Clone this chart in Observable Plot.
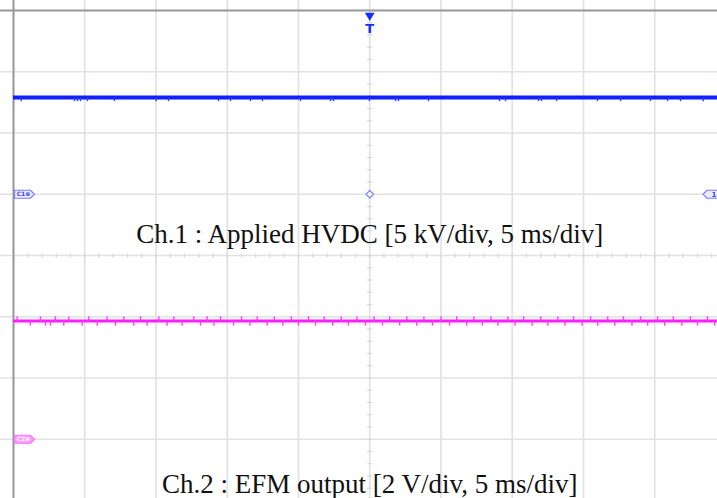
<!DOCTYPE html>
<html>
<head>
<meta charset="utf-8">
<script src="https://cdn.jsdelivr.net/npm/d3@7"></script>
<script src="https://cdn.jsdelivr.net/npm/@observablehq/plot@0.6"></script>
<style>
  html, body { margin: 0; padding: 0; background: #fff; overflow: hidden; }
  #chart { width: 717px; height: 498px; overflow: hidden; }
</style>
</head>
<body>
<div id="chart"></div>
<script>
// ---- Oscilloscope settings ----
const timePerDiv = 5;          // ms/div
const ch1VoltsPerDiv = 5;      // kV/div
const ch2VoltsPerDiv = 2;      // V/div
const ch1Ground = 1;           // divisions from screen centre
const ch2Ground = -3;          // divisions from screen centre
const ch1Level = 7.9;          // kV  (applied HVDC)
const ch2Level = 3.86;         // V   (EFM output)

// ---- Glitches (time in ms) ----
const ch1Glitches = [-24.46,-20.72,-20.51,-20.30,-19.81,-17.92,-14.99,-14.12,-10.61,-9.77,-8.37,-7.53,-4.86,-2.75,-2.54,-0.02,1.81,2.02,4.12,9.11,9.53,11.84,12.05,13.11,15.98,17.60,19.70,20.90,21.81,23.4];
const ch1GlitchAmp = -0.3;     // kV
const ch2GlitchesUp = [-24.75,-23.11,-22.06,-21.12,-19.72,-18.43,-17.26,-16.09,-14.80,-13.75,-12.35,-11.41,-10.47,-9.0,-7.9,-6.7,-5.5,-4.3,-3.2,-2.0,-0.9,0.3,1.4,2.6,3.8,5.0,6.1,7.3,8.5,9.7,10.8,12.0,13.2,14.3,15.5,16.7,17.8,19.0,20.2,21.3,22.5,23.7,24.8];
const ch2GlitchesDown = [-23.82,-22.76,-22.41,-21.47,-20.18,-19.13,-17.84,-16.56,-15.62,-14.22,-13.16,-11.88,-10.94,-9.56,-8.4,-7.2,-6.1,-5.0,-3.8,-2.6,-1.5,-0.3,0.9,2.1,3.3,4.4,5.6,6.8,7.9,9.0,10.2,11.4,12.5,13.7,14.9,16.0,17.2,18.4,19.5,20.7,21.9,23.0,24.2];
const ch2GlitchUpAmp = 0.16;   // V
const ch2GlitchDownAmp = -0.15;// V

// ---- Labels ----
const labels = [
  {text: "Ch.1 : Applied HVDC [5 kV/div, 5 ms/div]", t: 0, div: 0.2},
  {text: "Ch.2 : EFM output [2 V/div, 5 ms/div]", t: 0, div: -3.87}
];
const channelTags = [
  {name: "C1⊕", div: ch1Ground, fill: "#ececff", stroke: "#7a7aff", color: "#4040ff"},
  {name: "C2⊕", div: ch2Ground, fill: "#ff9cff", stroke: "#ff70ff", color: "#ffffff"}
];
const triggerLevelDiv = 1;

// ---- Screen grid ----
const xDivs = d3.range(-5, 6).map(d => d * timePerDiv);
const yDivs = d3.range(-4, 5);
const minorX = d3.range(-25, 25.001, timePerDiv / 5);
const minorY = d3.range(-4, 4.001, 0.2);

const ch1Y = v => ch1Ground + v / ch1VoltsPerDiv;
const ch2Y = v => ch2Ground + v / ch2VoltsPerDiv;

const tagSymbol = {
  draw(ctx) {
    ctx.moveTo(-10, -4); ctx.lineTo(6, -4); ctx.lineTo(10, 0);
    ctx.lineTo(6, 4); ctx.lineTo(-10, 4); ctx.closePath();
  }
};
const tagSymbolLeft = {
  draw(ctx) {
    ctx.moveTo(10, -4); ctx.lineTo(-6, -4); ctx.lineTo(-10, 0);
    ctx.lineTo(-6, 4); ctx.lineTo(10, 4); ctx.closePath();
  }
};

const gridColor = "#e2e2e2";

const plot = Plot.plot({
  width: 717,
  height: 498,
  margin: 0,
  style: {overflow: "hidden", background: "#fff"},
  x: {domain: [-25, 25], range: [13, 725.5], axis: null},
  y: {domain: [-4, 4], range: [500, 10], axis: null},
  marks: [
    Plot.ruleX(xDivs, {stroke: gridColor, strokeWidth: 1.7}),
    Plot.ruleY(yDivs, {stroke: gridColor, strokeWidth: 1.7}),
    // minor ticks on centre lines
    Plot.link(minorX, {x1: d => d, x2: d => d, y1: -0.035, y2: 0.035, stroke: "#d8d8d8", strokeWidth: 1.2}),
    Plot.link(minorY, {y1: d => d, y2: d => d, x1: -0.18, x2: 0.18, stroke: "#d8d8d8", strokeWidth: 1.2}),
    // frame (top and left edges visible)
    Plot.ruleY([4], {stroke: "#9a9a9a", strokeWidth: 2}),
    Plot.ruleX([-25], {stroke: "#9a9a9a", strokeWidth: 2}),
    // Channel 1 trace
    Plot.ruleY([ch1Y(ch1Level)], {x1: -25, x2: 25, stroke: "#0f1fff", strokeWidth: 4}),
    Plot.link(ch1Glitches, {x1: d => d, x2: d => d, y1: ch1Y(ch1Level), y2: ch1Y(ch1Level + ch1GlitchAmp), stroke: "#2a3cff", strokeWidth: 1.4}),
    // Channel 2 trace
    Plot.ruleY([ch2Y(ch2Level)], {x1: -25, x2: 25, stroke: "#ff1cff", strokeWidth: 3}),
    Plot.link(ch2GlitchesUp, {x1: d => d, x2: d => d, y1: ch2Y(ch2Level), y2: ch2Y(ch2Level + ch2GlitchUpAmp), stroke: "#ff40ff", strokeWidth: 1.4}),
    Plot.link(ch2GlitchesDown, {x1: d => d, x2: d => d, y1: ch2Y(ch2Level), y2: ch2Y(ch2Level + ch2GlitchDownAmp), stroke: "#ff40ff", strokeWidth: 1.4}),
    // trigger position marker
    Plot.dot([0], {x: d => d, y: 4, dy: 5, symbol: "triangle", r: 3.6, rotate: 180, fill: "#1030ff", stroke: "none"}),
    Plot.text([0], {x: d => d, y: 4, dy: 18, text: () => "T", fontSize: 13, fontWeight: "bold", fill: "#1030ff", fontFamily: "DejaVu Sans"}),
    // trigger point diamond & trigger level tag
    Plot.dot([0], {x: d => d, y: triggerLevelDiv, symbol: "diamond2", r: 3.4, stroke: "#8a8aff", strokeWidth: 1.4, fill: "#fff"}),
    Plot.dot([25], {x: d => d, y: triggerLevelDiv, dx: -13, symbol: tagSymbolLeft, fill: "#ececff", stroke: "#7a7aff", strokeWidth: 1.2}),
    Plot.text([25], {x: d => d, y: triggerLevelDiv, dx: -12, text: () => "1", fontSize: 7, fontWeight: "bold", fill: "#4040ff", fontFamily: "DejaVu Sans"}),
    // channel ground tags
    Plot.dot(channelTags, {x: -25, y: "div", dx: 11, symbol: tagSymbol, fill: "fill", stroke: "stroke", strokeWidth: 1.2}),
    Plot.text(channelTags, {x: -25, y: "div", dx: 10, text: "name", fill: "color", fontSize: 6, fontWeight: "bold", fontFamily: "DejaVu Sans"}),
    // captions
    Plot.text(labels, {x: "t", y: "div", text: "text", lineAnchor: "bottom", fontSize: 27, fontFamily: "Liberation Serif", fill: "#111"})
  ]
});
document.getElementById("chart").appendChild(plot);
</script>
</body>
</html>
